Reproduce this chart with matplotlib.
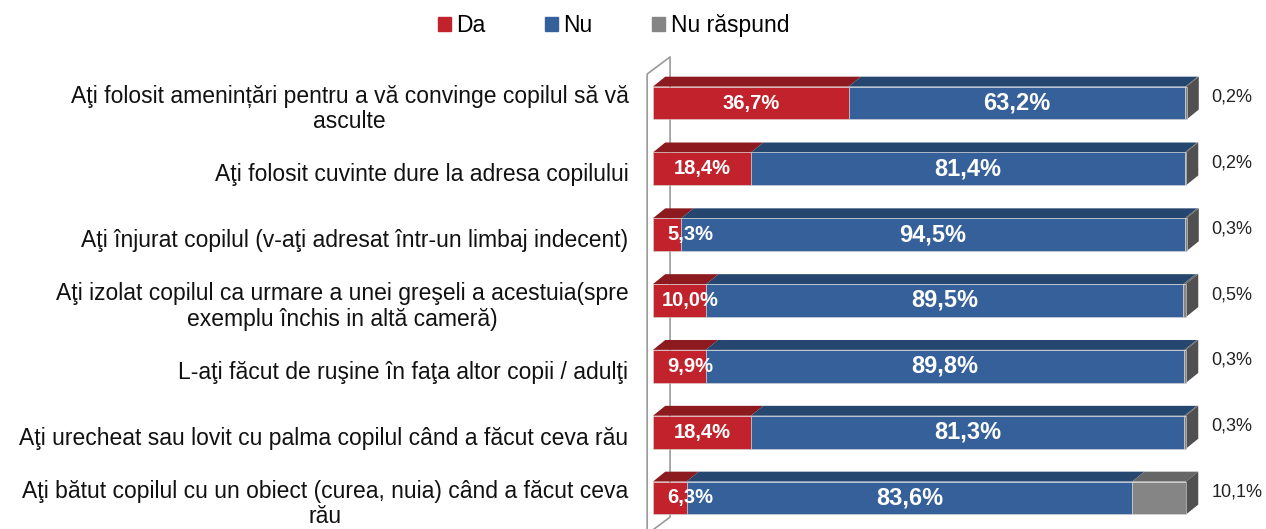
import matplotlib
matplotlib.use("Agg")
import matplotlib.pyplot as plt
from matplotlib.patches import Patch

plt.rcParams["font.family"] = ["Liberation Sans", "DejaVu Sans"]

# --- data ---
categories = [
    "Aţi folosit amenințări pentru a vă convinge copilul să vă\nasculte",
    "Aţi folosit cuvinte dure la adresa copilului",
    "Aţi înjurat copilul (v-aţi adresat într-un limbaj indecent)",
    "Aţi izolat copilul ca urmare a unei greşeli a acestuia(spre\nexemplu închis in altă cameră)",
    "L-aţi făcut de ruşine în faţa altor copii / adulţi",
    "Aţi urecheat sau lovit cu palma copilul când a făcut ceva rău",
    "Aţi bătut copilul cu un obiect (curea, nuia) când a făcut ceva\nrău",
]
da = [36.7, 18.4, 5.3, 10.0, 9.9, 18.4, 6.3]
nu = [63.2, 81.4, 94.5, 89.5, 89.8, 81.3, 83.6]
nu_raspund = [0.2, 0.2, 0.3, 0.5, 0.3, 0.3, 10.1]
series_names = ["Da", "Nu", "Nu răspund"]

front = ["#C1222B", "#35609A", "#858585"]
top = ["#8C1A1F", "#25466F", "#666666"]
side = "#505050"

fig = plt.figure(figsize=(12.66, 5.29), dpi=100)
ax = fig.add_axes([653 / 1266, -0.0036, 533 / 1266, 0.8711])
ax.set_xlim(0, 100)
ax.set_ylim(6.5, -0.5)
ax.axis("off")

h = 0.5      # bar thickness (rows)
ddx = 2.3    # depth offset in x (%)
ddy = 0.15   # depth offset in y (rows)

# left wall outline
ax.plot([-1.1, -1.1, 3.2, 3.2, -1.1], [6.6, -0.44, -0.70, 6.29, 6.55],
        color="#9a9a9a", lw=1.2, clip_on=False, zorder=0)

for i, cat in enumerate(categories):
    vals = [da[i], nu[i], nu_raspund[i]]
    left = 0
    for k, v in enumerate(vals):
        ax.barh(i, v, left=left, height=h, color=front[k],
                edgecolor="#d8d8d8", linewidth=0.4, zorder=3, clip_on=False)
        yt = i - h / 2
        ax.fill([left, left + ddx, left + v + ddx, left + v],
                [yt, yt - ddy, yt - ddy, yt], color=top[k], lw=0, zorder=2,
                clip_on=False)
        left += v
    # side face at the end of the stack
    ax.fill([left, left + ddx, left + ddx, left],
            [i + h / 2, i + h / 2 - ddy, i - h / 2 - ddy, i - h / 2],
            color=side, lw=0, zorder=2, clip_on=False)

    # value labels
    ax.text(max(da[i] / 2, 7.0), i, f"{da[i]:.1f}%".replace(".", ","),
            color="white", fontsize=14.5, fontweight="bold",
            ha="center", va="center", zorder=5)
    ax.text(da[i] + nu[i] / 2, i, f"{nu[i]:.1f}%".replace(".", ","),
            color="white", fontsize=17, fontweight="bold",
            ha="center", va="center", zorder=5)
    ax.text(104.8, i - 0.09, f"{nu_raspund[i]:.1f}%".replace(".", ","),
            color="#222222", fontsize=13, ha="left", va="center",
            clip_on=False)

    # category labels
    ax.text(-4.6, i + 0.09, cat, ha="right", va="center", multialignment="center",
            fontsize=16.5, color="#111111", linespacing=1.15, clip_on=False)

handles = [Patch(color=c) for c in front]
fig.legend(handles, series_names, loc="center", bbox_to_anchor=(0.4846, 0.951),
           ncol=3, frameon=False, fontsize=16.5, handlelength=0.55,
           handleheight=0.55, handletextpad=0.25, columnspacing=2.6)

fig.savefig("out.png", dpi=100)
